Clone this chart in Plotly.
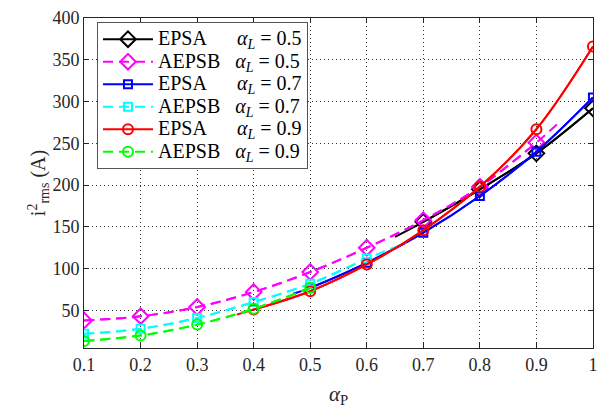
import plotly.graph_objects as go

# Modulation ratio alpha_P at the marker positions
alpha_p = [0.1, 0.2, 0.3, 0.4, 0.5, 0.6, 0.7, 0.8, 0.9, 1.0]

# EPSA, alpha_L = 0.5 (valid from alpha_P ~ 0.65)
epsa_05_x = [0.65, 0.7, 0.8, 0.9, 1.0]
epsa_05_y = [138, 156, 195, 238, 292]

# AEPSB, alpha_L = 0.5 (valid up to alpha_P ~ 0.94)
aepsb_05_x = [0.1, 0.2, 0.3, 0.4, 0.5, 0.6, 0.7, 0.8, 0.9, 0.94]
aepsb_05_y = [38, 43, 54, 72, 96, 125, 158, 198, 251, 275]

# EPSA, alpha_L = 0.7 (valid from alpha_P ~ 0.47)
epsa_07_x = [0.47, 0.5, 0.6, 0.7, 0.8, 0.9, 1.0]
epsa_07_y = [70, 77, 107, 143, 187, 240, 305]

# AEPSB, alpha_L = 0.7 (valid up to alpha_P ~ 0.67)
aepsb_07_x = [0.1, 0.2, 0.3, 0.4, 0.5, 0.6, 0.67]
aepsb_07_y = [22, 28, 41, 60, 82, 112, 131]

# EPSA, alpha_L = 0.9 (valid from alpha_P ~ 0.37)
epsa_09_x = [0.37, 0.4, 0.5, 0.6, 0.7, 0.8, 0.9, 1.0]
epsa_09_y = [45, 51, 73, 105, 146, 198, 267, 366]

# AEPSB, alpha_L = 0.9
aepsb_09_x = [0.1, 0.2, 0.3, 0.4, 0.5]
aepsb_09_y = [13.5, 20, 33, 52, 77]

x_ticks = [0.1, 0.2, 0.3, 0.4, 0.5, 0.6, 0.7, 0.8, 0.9, 1.0]
x_tick_text = ["0.1", "0.2", "0.3", "0.4", "0.5", "0.6", "0.7", "0.8", "0.9", "1"]
y_ticks = [50, 100, 150, 200, 250, 300, 350, 400]

FONT = "Liberation Serif"
AX = "#262626"
DASH = "10px,6px"

series = [
    ("EPSA", "0.5", epsa_05_x, epsa_05_y, "#000000", "solid", "diamond-open", 12),
    ("AEPSB", "0.5", aepsb_05_x, aepsb_05_y, "#ff00ff", DASH, "diamond-open", 12),
    ("EPSA", "0.7", epsa_07_x, epsa_07_y, "#0000ff", "solid", "square-open", 8),
    ("AEPSB", "0.7", aepsb_07_x, aepsb_07_y, "#00ffff", DASH, "square-open", 8),
    ("EPSA", "0.9", epsa_09_x, epsa_09_y, "#ff0000", "solid", "circle-open", 10),
    ("AEPSB", "0.9", aepsb_09_x, aepsb_09_y, "#00ff00", DASH, "circle-open", 10),
]

fig = go.Figure()
for method, al, xs, ys, color, dash, symbol, msize in series:
    pad = "&nbsp;" * (6 if method == "EPSA" else 3)
    # legend rows are spaced by the legend font; the label itself is set larger
    name = (f'<span style="font-size:20px">{method}{pad}'
            f'<i>α</i><sub><i>L</i></sub> = {al}</span>')
    # full curve including the ends that fall between marker positions
    fig.add_trace(go.Scatter(
        x=xs, y=ys, mode="lines", showlegend=False, hoverinfo="skip",
        line=dict(color=color, width=2, dash=dash, shape="spline"),
    ))
    # markers at the grid values of alpha_P
    on_grid = [any(abs(x - a) < 1e-9 for a in alpha_p) for x in xs]
    mx = [x for x, g in zip(xs, on_grid) if g]
    my = [y for y, g in zip(ys, on_grid) if g]
    fig.add_trace(go.Scatter(
        x=mx, y=my, mode="lines+markers", name=name,
        line=dict(color=color, width=2, dash=dash, shape="spline"),
        marker=dict(symbol=symbol, size=msize, color=color,
                    line=dict(color=color, width=2)),
    ))

axis_common = dict(
    showline=True, linecolor=AX, linewidth=1, mirror="ticks",
    ticks="inside", ticklen=5, tickcolor=AX,
    showgrid=True, gridcolor="#333333", gridwidth=1, griddash="1px,3px",
    zeroline=False, ticklabeloverflow="allow",
    tickfont=dict(family=FONT, size=18, color=AX),
)

fig.update_xaxes(
    range=[0.0999, 1.0001], tickvals=x_ticks, ticktext=x_tick_text,
    title=dict(text="<i>α</i><sub>P</sub>", font=dict(family=FONT, size=21, color=AX), standoff=12),
    **axis_common,
)
fig.update_yaxes(
    range=[5, 400.05], tickvals=y_ticks,
    title=dict(text="i<sup>2</sup><sub>rms</sub> (A)", font=dict(family=FONT, size=20, color=AX), standoff=0),
    **axis_common,
)

fig.update_layout(
    width=615, height=415,
    margin=dict(l=84, r=22, t=8, b=67),
    paper_bgcolor="white", plot_bgcolor="white",
    font=dict(family=FONT, color=AX),
    legend=dict(
        x=0.0255, y=0.988, xanchor="left", yanchor="top",
        bgcolor="white", bordercolor="#555555", borderwidth=1,
        font=dict(family=FONT, size=15, color="#000000"),
        itemwidth=50, tracegroupgap=0,
    ),
)

fig.write_html("out.html")
